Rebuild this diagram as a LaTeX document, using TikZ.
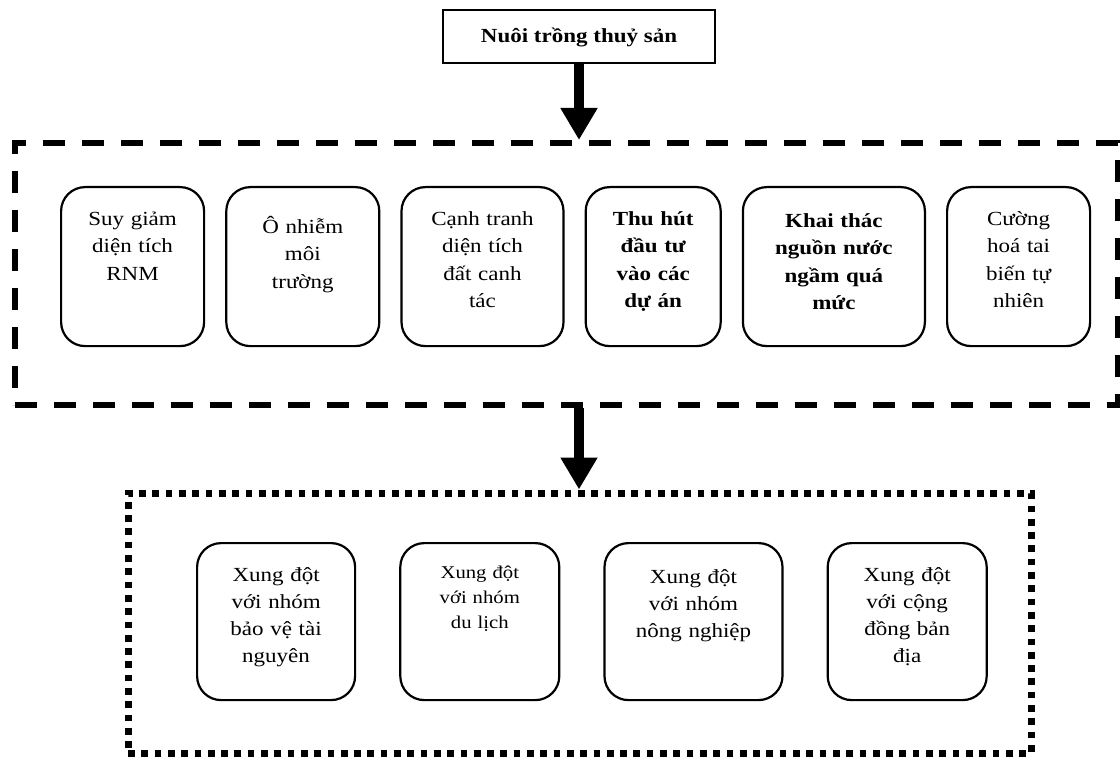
\documentclass[tikz,border=0pt]{standalone}
\usepackage{fontspec}
\setmainfont{Liberation Serif}[FakeStretch=1.15]
\usepackage{tikz}
\usetikzlibrary{positioning, arrows.meta}
\tikzstyle{source} = [rectangle, draw=black, line width=2pt, minimum width=272pt, minimum height=53pt, text height=18pt, text depth=5pt, font=\fontsize{20}{27}\selectfont\bfseries]
\tikzstyle{effect} = [rectangle, rounded corners=24pt, draw=black, line width=2.2pt, inner sep=0pt, text width=130pt, align=center, minimum height=159pt, text height=38pt, text depth=121pt, font=\fontsize{20}{27.5}\selectfont]
\tikzstyle{keyeffect} = [effect, font=\fontsize{20}{27.5}\selectfont\bfseries]
\tikzstyle{conflict} = [effect, minimum height=157pt, text depth=119pt, font=\fontsize{20}{27}\selectfont]
\tikzstyle{dashframe} = [rectangle, draw=black, line width=6pt, dash pattern=on 22pt off 17pt]
\tikzstyle{dotframe} = [rectangle, draw=black, line width=7pt, dash pattern=on 6.7pt off 6.6pt]
\tikzstyle{arrow} = [line width=10pt, -{Triangle[length=32pt,width=35pt]}]

\begin{document}
\begin{tikzpicture}[x=1pt, y=1pt, node distance=20pt]
    \useasboundingbox (0,0) rectangle (1120,-757);
        \node (aqua) [source] at (579,-36.5) {Nuôi trồng thuỷ sản};
        \node (impacts) [dashframe, minimum width=1103pt, minimum height=262pt] at (566.5,-274) {};
        \node (conflicts) [dotframe, minimum width=903pt, minimum height=260pt] at (579.5,-623) {};

        \node (s1) [effect, anchor=north west, minimum width=143pt] at (60,-186) {Suy giảm\\diện tích\\RNM};
        \node (s2) [effect, right=of s1, minimum width=153pt, text height=46pt, text depth=113pt] {Ô nhiễm\\môi\\trường};
        \node (s3) [effect, right=of s2, minimum width=162pt] {Cạnh tranh\\diện tích\\đất canh\\tác};
        \node (s4) [keyeffect, right=of s3, minimum width=135pt] {Thu hút\\đầu tư\\vào các\\dự án};
        \node (s5) [keyeffect, right=of s4, minimum width=182pt, text height=40pt, text depth=119pt] {Khai thác\\nguồn nước\\ngầm quá\\mức};
        \node (s6) [effect, right=of s5, minimum width=143pt] {Cường\\hoá tai\\biến tự\\nhiên};

        \node (c1) [conflict, anchor=north west, minimum width=158pt] at (196,-542) {Xung đột\\với nhóm\\bảo vệ tài\\nguyên};
        \node (c2) [conflict, right=43pt of c1, minimum width=159pt, text height=35pt, text depth=122pt, font=\fontsize{18}{25}\selectfont] {Xung đột\\với nhóm\\du lịch};
        \node (c3) [conflict, right=43pt of c2, minimum width=178pt, text height=40pt, text depth=117pt] {Xung đột\\với nhóm\\nông nghiệp};
        \node (c4) [conflict, right=43pt of c3, minimum width=159pt] {Xung đột\\với cộng\\đồng bản\\địa};

        \draw [arrow] (aqua.south) -- (aqua.south |- impacts.north);
        \draw [arrow] (aqua.south |- impacts.south) -- (aqua.south |- conflicts.north);
    \end{tikzpicture}
\end{document}
